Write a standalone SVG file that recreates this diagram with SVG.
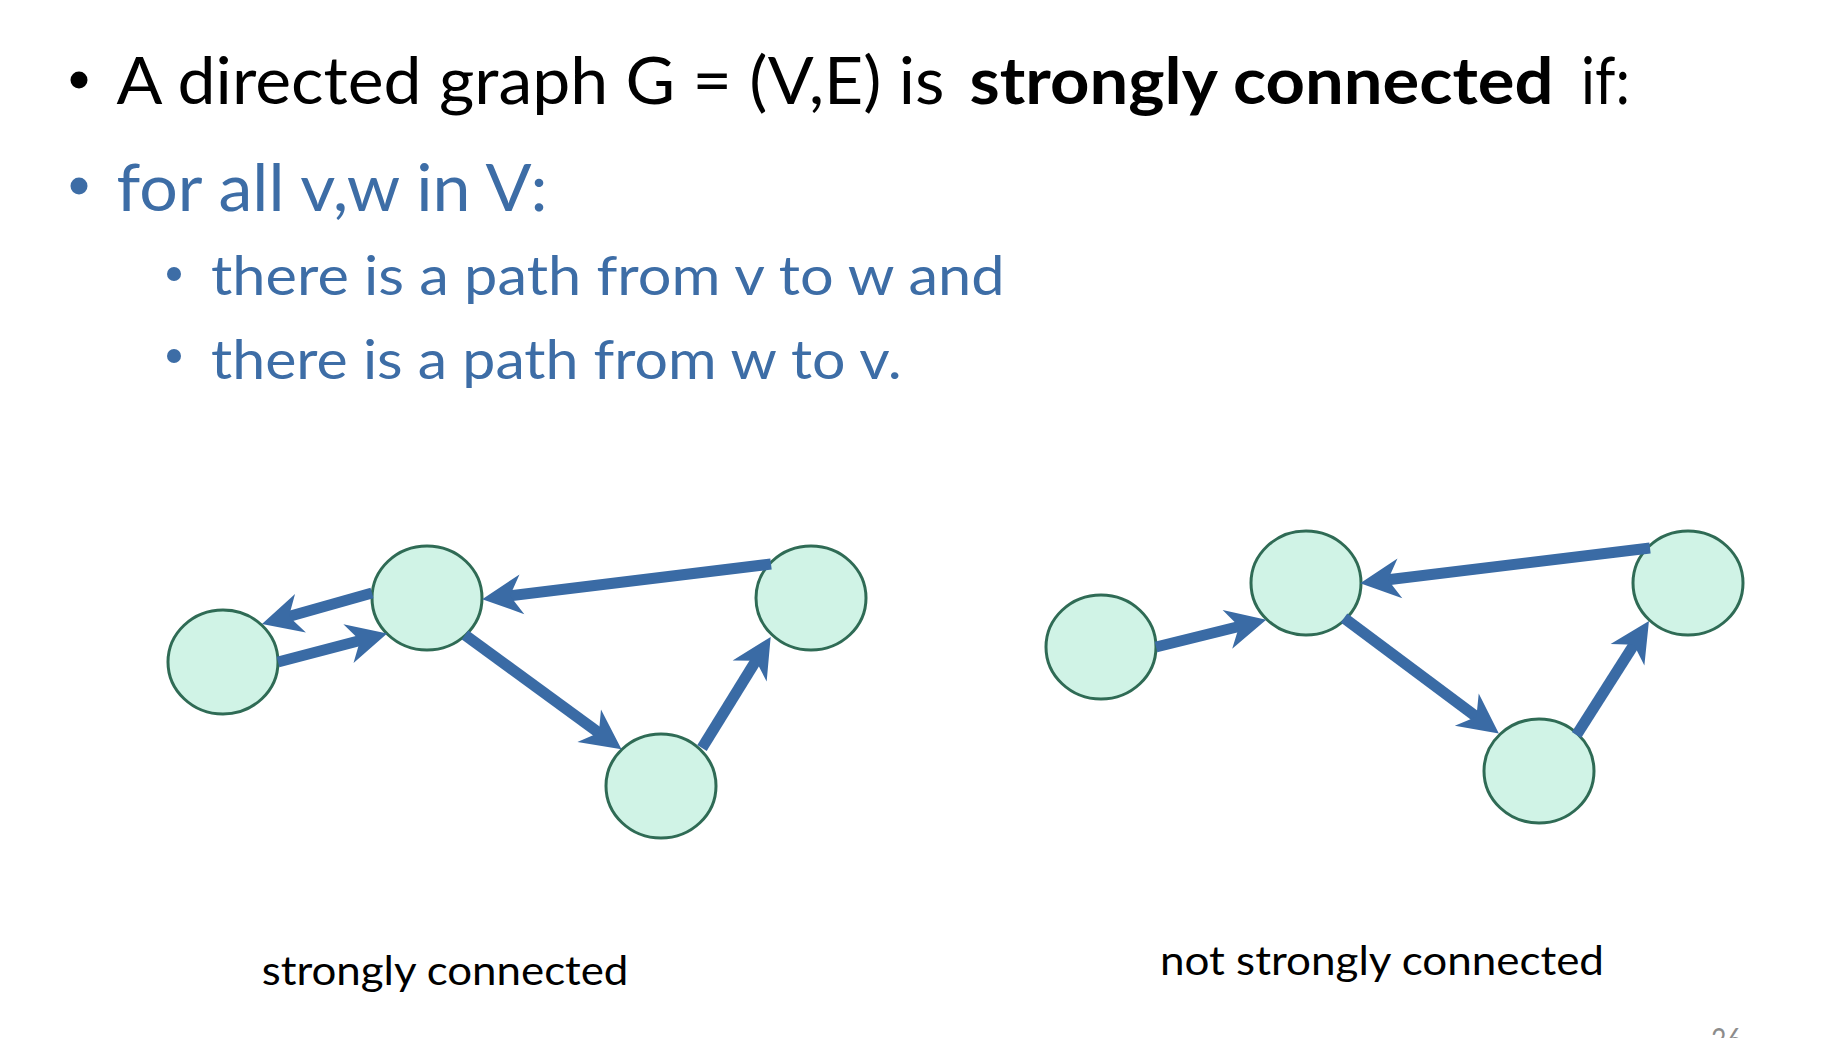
<svg xmlns="http://www.w3.org/2000/svg" width="1826" height="1038" viewBox="0 0 1826 1038">
<style>
.t{font-family:Lato,"Open Sans","Liberation Sans",sans-serif;}
.blk{fill:#000;}
.blu{fill:#3D6DA6;}
.b{font-weight:bold;}
.node{fill:#D0F3E6;stroke:#2F6B55;stroke-width:3;}
.edge{stroke:#3A6BA5;stroke-width:11;fill:none;marker-end:url(#arr);}
</style>
<defs>
<marker id="arr" markerUnits="userSpaceOnUse" orient="auto" refX="0" refY="0" markerWidth="60" markerHeight="60" overflow="visible">
<path d="M26,0 L-14,-20 L-2,0 L-14,20 Z" fill="#3A6BA5"/>
</marker>
</defs>
<rect width="1826" height="1038" fill="#fff"/>
<g id="text">
<circle cx="79" cy="80" r="8.5" fill="#000"/>
<text class="t blk" x="116.5" y="104" font-size="65" textLength="828" lengthAdjust="spacingAndGlyphs">A directed graph G = (V,E) is</text>
<text class="t blk b" x="969.5" y="104" font-size="65" textLength="584" lengthAdjust="spacingAndGlyphs">strongly connected</text>
<text class="t blk" x="1581" y="104" font-size="65" textLength="49" lengthAdjust="spacingAndGlyphs">if:</text>
<circle cx="79" cy="186" r="8.5" fill="#3D6DA6"/>
<text class="t blu" x="116.5" y="210.5" font-size="65" textLength="431" lengthAdjust="spacingAndGlyphs">for all v,w in V:</text>
<circle cx="174" cy="274" r="7" fill="#3D6DA6"/>
<text class="t blu" x="211" y="295" font-size="54" textLength="793.5" lengthAdjust="spacingAndGlyphs">there is a path from v to w and</text>
<circle cx="174" cy="356" r="7" fill="#3D6DA6"/>
<text class="t blu" x="211" y="378.5" font-size="54" textLength="690.6" lengthAdjust="spacingAndGlyphs">there is a path from w to v.</text>
<text class="t blk" x="261.7" y="985" font-size="41" textLength="366.7" lengthAdjust="spacingAndGlyphs">strongly connected</text>
<text class="t blk" x="1160" y="974.5" font-size="41" textLength="444" lengthAdjust="spacingAndGlyphs">not strongly connected</text>
<text class="t" x="1711" y="1052" font-size="32" fill="#8C8C8C" textLength="31" lengthAdjust="spacingAndGlyphs">36</text>
</g>
<g id="nodes">
<ellipse id="s-a" class="node" cx="223" cy="662" rx="55" ry="52"/>
<ellipse id="s-b" class="node" cx="427" cy="598" rx="55" ry="52"/>
<ellipse id="s-c" class="node" cx="811" cy="598" rx="55" ry="52"/>
<ellipse id="s-d" class="node" cx="661" cy="786" rx="55" ry="52"/>
<ellipse id="n-a" class="node" cx="1101" cy="647" rx="55" ry="52"/>
<ellipse id="n-b" class="node" cx="1306" cy="583" rx="55" ry="52"/>
<ellipse id="n-c" class="node" cx="1688" cy="583" rx="55" ry="52"/>
<ellipse id="n-d" class="node" cx="1539" cy="771" rx="55" ry="52"/>
</g>
<g id="connectors">
<line class="edge" x1="372" y1="593" x2="287" y2="617"/>
<line class="edge" x1="278" y1="662" x2="362" y2="640"/>
<line class="edge" x1="771" y1="564" x2="508" y2="596"/>
<line class="edge" x1="465" y1="635" x2="600.5" y2="734"/>
<line class="edge" x1="702" y1="748" x2="757" y2="659"/>
<line class="edge" x1="1156" y1="647" x2="1241" y2="626"/>
<line class="edge" x1="1650" y1="548" x2="1386" y2="580"/>
<line class="edge" x1="1344" y1="618" x2="1478" y2="718"/>
<line class="edge" x1="1576.5" y1="735" x2="1635" y2="643"/>
</g>
</svg>
